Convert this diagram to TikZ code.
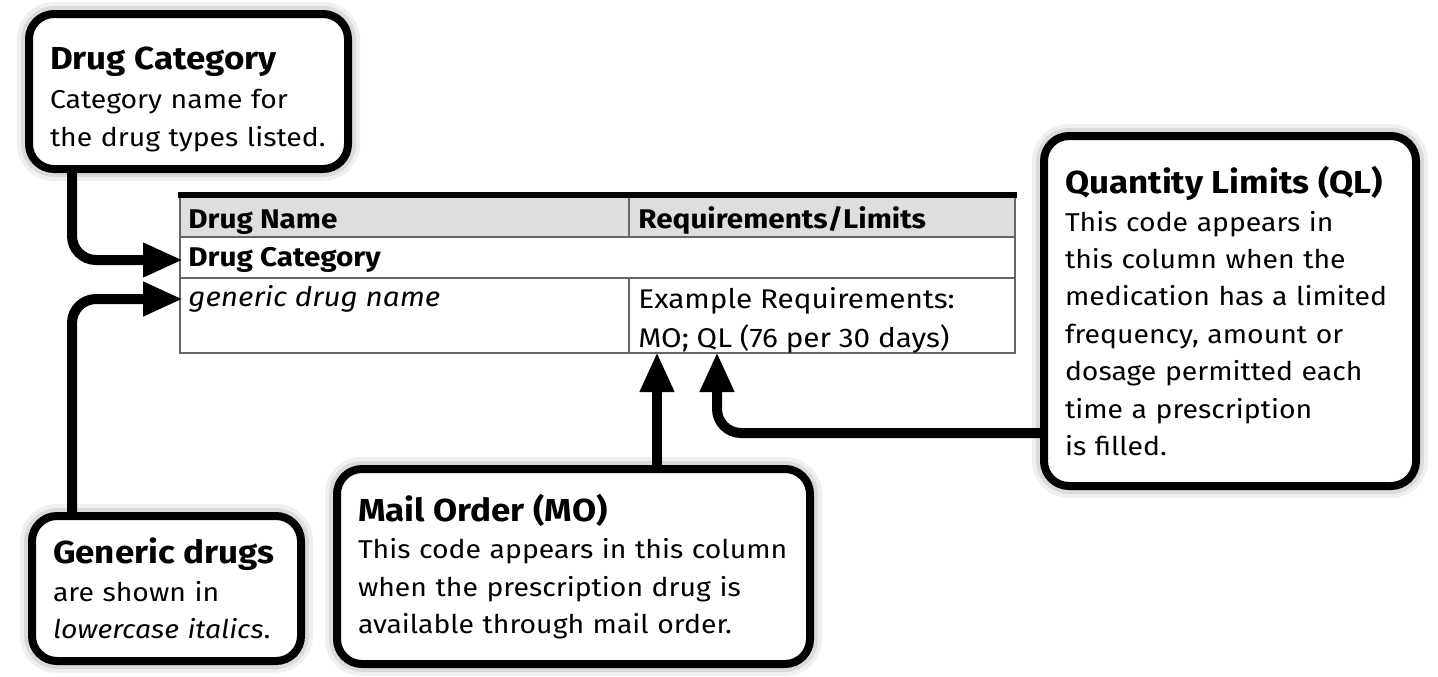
\documentclass[tikz,border=0pt]{standalone}
\usepackage{fontspec}
\setmainfont{Fira Sans}[FakeStretch=1.1]
\usetikzlibrary{arrows.meta}
\usetikzlibrary{positioning}

\newcommand{\boxhead}[1]{{\fontsize{15.9}{18.7}\selectfont\bfseries #1}}

\begin{document}
\begin{tikzpicture}[x=0.5pt, y=-0.5pt,
	callout/.style={draw, line width=4pt, rounded corners=12.5pt, fill=white,
		align=left, inner xsep=10.5pt, inner ysep=0pt,
		font=\fontsize{12.9}{18.7}\selectfont,
		preaction={draw=black!6, line width=12pt},
		preaction={draw=black!14, line width=8pt}},
	pointer/.style={line width=5pt, rounded corners=12pt, -{Triangle[length=20pt, width=16pt]}},
	cell/.style={inner sep=0pt, font=\fontsize{13.5}{19.5}\selectfont},
	gridline/.style={draw=black!60, line width=1pt}]
	\fill[white] (0,0) rectangle (1438,675);

	\node[callout, text width=138.5pt, minimum height=77.5pt] (DC) at (188.5,91.5)
		{\rule{0pt}{19pt}\boxhead{Drug Category}\\[1pt] Category name for\\ the drug types listed.};
	\node[callout, text width=113.5pt, minimum height=72.5pt] (GD) at (166.5,588.5)
		{\boxhead{Generic drugs}\\ are shown in\\ \textit{lowercase italics}.};
	\node[callout, text width=215.5pt, minimum height=97.5pt] (MO) at (573.5,566.5)
		{\boxhead{Mail Order (MO)}\\ This code appears in this column\\ when the prescription drug is\\ available through mail order.};
	\node[callout, text width=165pt, minimum height=175pt] (QL) at (1230,311)
		{\boxhead{Quantity Limits (QL)}\\ This code appears in\\ this column when the\\ medication has a limited\\ frequency, amount or\\ dosage permitted each\\ time a prescription\\ is filled.};

	\fill[black!13] (180,197) rectangle (1015,237);
	\draw[gridline] (180,195) -- (180,353) -- (1015,353) -- (1015,195);
	\draw[gridline] (180,237) -- (1015,237) (180,278) -- (1015,278);
	\draw[gridline] (629,195) -- (629,237) (629,278) -- (629,353);
	\draw[line width=3pt] (178,195) -- (1017,195);

	\node[cell, anchor=base west] (DN) at (188,228) {\bfseries Drug Name};
	\node[cell, anchor=base west] (RL) at (638,228) {\bfseries Requirements/Limits};
	\node[cell, anchor=west, inner xsep=2.5pt] (CATROW) at (183,260) {\bfseries Drug Category};
	\node[cell, anchor=west, inner xsep=2.5pt] (GENROW) at (183,299) {\itshape generic drug name};
	\node[cell, anchor=base west] (EX) at (638,308) {Example Requirements:};
	\node[cell, anchor=base west] (CODES) at (638,347) {MO; QL (76 per 30 days)};

	\coordinate (RAIL) at (72,0);
	\coordinate (MOTIP) at (657,352);
	\coordinate (QLTIP) at (717,352);
	\coordinate (QLBEND) at (717,433);

	\draw[pointer] (DC.south -| RAIL) |- (CATROW.west);
	\draw[pointer] (GD.north -| RAIL) |- (GENROW.west);
	\draw[pointer] (MO.north -| MOTIP) -- (MOTIP);
	\draw[pointer] (QL.west |- QLBEND) -| (QLTIP);
\end{tikzpicture}
\end{document}
